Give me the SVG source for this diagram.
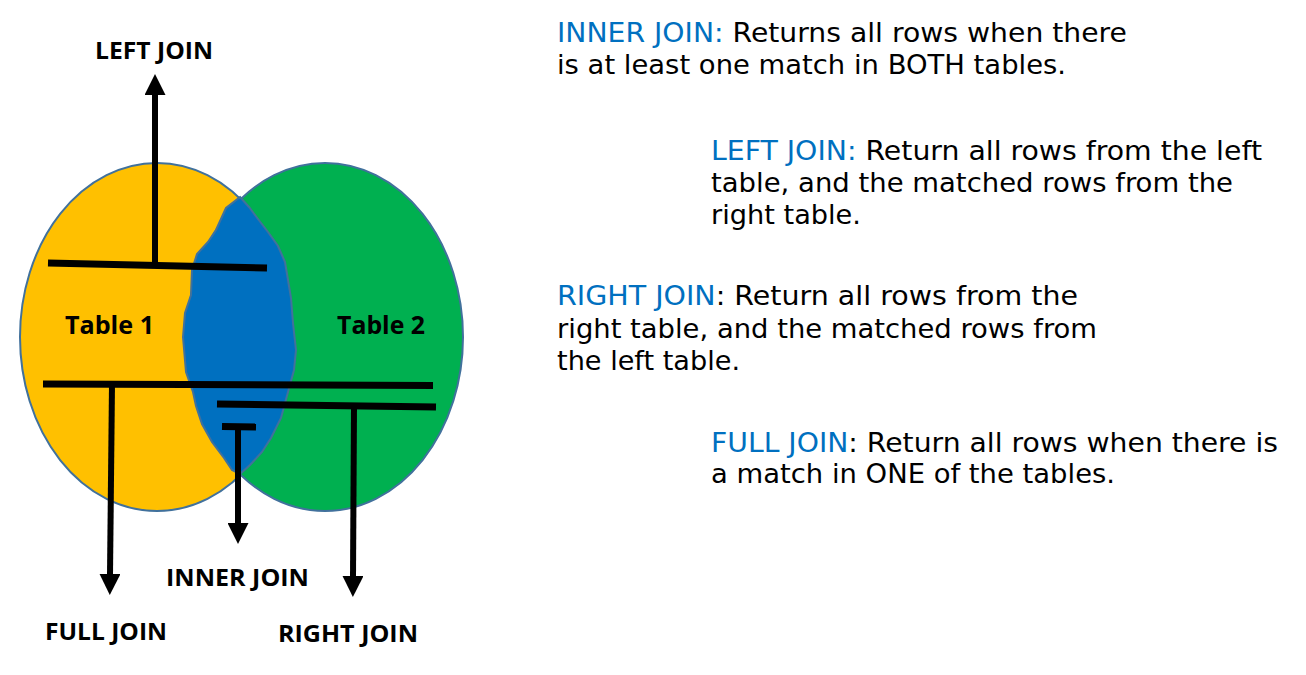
<svg xmlns="http://www.w3.org/2000/svg" width="1306" height="675" viewBox="0 0 1306 675">
  <defs>
    <style>
      .lbl { font-family: "Open Sans", "Liberation Sans", sans-serif; font-weight: bold; font-size: 23px; fill: #000; }
      .tbl { font-family: "Open Sans", "Liberation Sans", sans-serif; font-weight: bold; font-size: 25px; fill: #000; }
      .desc { font-family: "DejaVu Sans", "Verdana", sans-serif; font-size: 27px; fill: #000; }
      .kw { fill: #0070C0; }
      .bar { stroke: #000; stroke-width: 7; fill: none; }
      .shaft { stroke: #000; stroke-width: 6; fill: none; }
      .set { stroke: #41719C; stroke-width: 2; }
    </style>
    <marker id="arrow" markerUnits="userSpaceOnUse" markerWidth="21" markerHeight="21" viewBox="0 0 21 21" refX="1" refY="10.5" orient="auto">
      <path d="M0,0 L21,10.5 L0,21 Z" fill="#000"/>
    </marker>
  </defs>
  <rect width="1306" height="675" fill="#fff"/>

  <g id="table1">
    <ellipse class="set" cx="157" cy="337" rx="137" ry="174" fill="#FFC000"/>
  </g>
  <g id="table2">
    <ellipse class="set" cx="325" cy="337" rx="138" ry="174" fill="#00B050"/>
  </g>
  <g id="inner">
    <path class="set" fill="#0070C0" d="M240,197 L249,207 L258,219 L268,232 L278,246 L285,262 L288,280 L291,298 L293,323 L296,350 L294,370 L288,392 L281,418 L271,438 L262,452 L250,465 L240,474 L232,470 L224,458 L212,442 L202,424 L196,406 L193,392 L186,372 L183,337 L185,313 L191,295 L192,270 L197,254 L208,242 L216,230 L226,208 Z"/>
  </g>
  <g id="table-labels">
    <text class="tbl" x="65" y="334" textLength="89" lengthAdjust="spacingAndGlyphs">Table 1</text>
    <text class="tbl" x="337" y="334" textLength="88" lengthAdjust="spacingAndGlyphs">Table 2</text>
  </g>

  <g id="connectors">
    <line class="bar" x1="48" y1="263" x2="267" y2="268"/>
    <line class="shaft" x1="155" y1="263" x2="155" y2="94" marker-end="url(#arrow)"/>
    <line class="bar" x1="43" y1="384" x2="433" y2="385.5"/>
    <line class="shaft" x1="112" y1="384" x2="110" y2="575" marker-end="url(#arrow)"/>
    <line class="bar" x1="217" y1="404" x2="436" y2="407"/>
    <line class="shaft" x1="354" y1="407" x2="353" y2="577" marker-end="url(#arrow)"/>
    <line class="bar" x1="222" y1="426.5" x2="256" y2="427"/>
    <line class="shaft" x1="238" y1="427" x2="238" y2="524" marker-end="url(#arrow)"/>
  </g>

  <g id="join-labels">
    <text class="lbl" x="95" y="59" textLength="118" lengthAdjust="spacingAndGlyphs">LEFT JOIN</text>
    <text class="lbl" x="166" y="586" textLength="143" lengthAdjust="spacingAndGlyphs">INNER JOIN</text>
    <text class="lbl" x="45" y="640" textLength="122" lengthAdjust="spacingAndGlyphs">FULL JOIN</text>
    <text class="lbl" x="278" y="642" textLength="140" lengthAdjust="spacingAndGlyphs">RIGHT JOIN</text>
  </g>

  <g id="desc-inner">
    <text class="desc" x="557" y="42" textLength="570" lengthAdjust="spacingAndGlyphs"><tspan class="kw">INNER JOIN:</tspan> Returns all rows when there</text>
    <text class="desc" x="557" y="74" textLength="509" lengthAdjust="spacingAndGlyphs">is at least one match in BOTH tables.</text>
  </g>
  <g id="desc-left">
    <text class="desc" x="711" y="160" textLength="551" lengthAdjust="spacingAndGlyphs"><tspan class="kw">LEFT JOIN:</tspan> Return all rows from the left</text>
    <text class="desc" x="711" y="192" textLength="522" lengthAdjust="spacingAndGlyphs">table, and the matched rows from the</text>
    <text class="desc" x="711" y="224" textLength="150" lengthAdjust="spacingAndGlyphs">right table.</text>
  </g>
  <g id="desc-right">
    <text class="desc" x="557" y="305" textLength="521" lengthAdjust="spacingAndGlyphs"><tspan class="kw">RIGHT JOIN</tspan>: Return all rows from the</text>
    <text class="desc" x="557" y="338" textLength="540" lengthAdjust="spacingAndGlyphs">right table, and the matched rows from</text>
    <text class="desc" x="557" y="370" textLength="183" lengthAdjust="spacingAndGlyphs">the left table.</text>
  </g>
  <g id="desc-full">
    <text class="desc" x="711" y="452" textLength="567" lengthAdjust="spacingAndGlyphs"><tspan class="kw">FULL JOIN</tspan>: Return all rows when there is</text>
    <text class="desc" x="711" y="483" textLength="404" lengthAdjust="spacingAndGlyphs">a match in ONE of the tables.</text>
  </g>
</svg>
